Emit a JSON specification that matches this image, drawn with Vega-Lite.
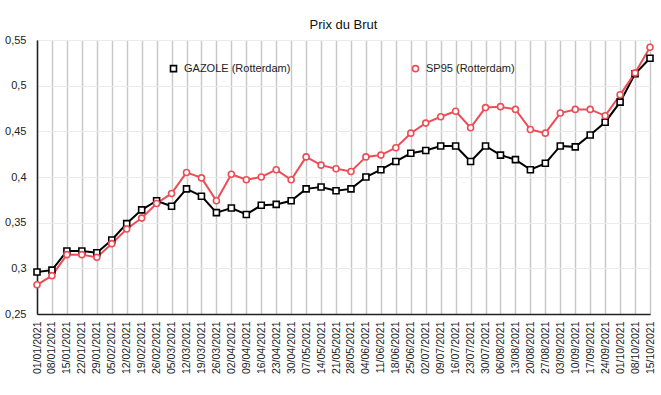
{
  "$schema": "https://vega.github.io/schema/vega-lite/v6.json",
  "width": 613,
  "height": 274,
  "autosize": {"type": "none"},
  "padding": {"left": 37, "top": 40, "right": 11, "bottom": 81},
  "background": "white",
  "title": {"text": "Prix du Brut", "fontSize": 13, "fontWeight": "normal", "font": "Liberation Sans", "color": "#111", "anchor": "middle", "offset": 4, "dy": 2},
  "config": {
    "view": {"stroke": "#444", "strokeWidth": 1},
    "font": "Liberation Sans",
    "legend": {"orient": "none", "legendX": 131, "legendY": 23, "direction": "horizontal", "columns": 2, "columnPadding": 118, "labelFontSize": 11, "labelColor": "#222", "labelFont": "Liberation Sans", "symbolSize": 36, "symbolStrokeWidth": 1.6, "labelOffset": 5, "title": null}
  },
  "datasets": {
    "prix": [
      {"date": "01/01/2021", "GAZOLE": 0.296, "SP95": 0.282},
      {"date": "08/01/2021", "GAZOLE": 0.298, "SP95": 0.292},
      {"date": "15/01/2021", "GAZOLE": 0.319, "SP95": 0.315},
      {"date": "22/01/2021", "GAZOLE": 0.319, "SP95": 0.315},
      {"date": "29/01/2021", "GAZOLE": 0.317, "SP95": 0.312},
      {"date": "05/02/2021", "GAZOLE": 0.331, "SP95": 0.327},
      {"date": "12/02/2021", "GAZOLE": 0.349, "SP95": 0.343},
      {"date": "19/02/2021", "GAZOLE": 0.364, "SP95": 0.355},
      {"date": "26/02/2021", "GAZOLE": 0.374, "SP95": 0.371},
      {"date": "05/03/2021", "GAZOLE": 0.368, "SP95": 0.382},
      {"date": "12/03/2021", "GAZOLE": 0.387, "SP95": 0.405},
      {"date": "19/03/2021", "GAZOLE": 0.379, "SP95": 0.399},
      {"date": "26/03/2021", "GAZOLE": 0.361, "SP95": 0.374},
      {"date": "02/04/2021", "GAZOLE": 0.366, "SP95": 0.403},
      {"date": "09/04/2021", "GAZOLE": 0.359, "SP95": 0.397},
      {"date": "16/04/2021", "GAZOLE": 0.369, "SP95": 0.400},
      {"date": "23/04/2021", "GAZOLE": 0.370, "SP95": 0.408},
      {"date": "30/04/2021", "GAZOLE": 0.374, "SP95": 0.397},
      {"date": "07/05/2021", "GAZOLE": 0.387, "SP95": 0.422},
      {"date": "14/05/2021", "GAZOLE": 0.389, "SP95": 0.413},
      {"date": "21/05/2021", "GAZOLE": 0.385, "SP95": 0.409},
      {"date": "28/05/2021", "GAZOLE": 0.387, "SP95": 0.406},
      {"date": "04/06/2021", "GAZOLE": 0.400, "SP95": 0.422},
      {"date": "11/06/2021", "GAZOLE": 0.408, "SP95": 0.424},
      {"date": "18/06/2021", "GAZOLE": 0.417, "SP95": 0.432},
      {"date": "25/06/2021", "GAZOLE": 0.426, "SP95": 0.448},
      {"date": "02/07/2021", "GAZOLE": 0.429, "SP95": 0.459},
      {"date": "09/07/2021", "GAZOLE": 0.434, "SP95": 0.466},
      {"date": "16/07/2021", "GAZOLE": 0.434, "SP95": 0.472},
      {"date": "23/07/2021", "GAZOLE": 0.417, "SP95": 0.454},
      {"date": "30/07/2021", "GAZOLE": 0.434, "SP95": 0.476},
      {"date": "06/08/2021", "GAZOLE": 0.424, "SP95": 0.477},
      {"date": "13/08/2021", "GAZOLE": 0.419, "SP95": 0.474},
      {"date": "20/08/2021", "GAZOLE": 0.408, "SP95": 0.452},
      {"date": "27/08/2021", "GAZOLE": 0.415, "SP95": 0.448},
      {"date": "03/09/2021", "GAZOLE": 0.434, "SP95": 0.470},
      {"date": "10/09/2021", "GAZOLE": 0.433, "SP95": 0.474},
      {"date": "17/09/2021", "GAZOLE": 0.446, "SP95": 0.474},
      {"date": "24/09/2021", "GAZOLE": 0.460, "SP95": 0.467},
      {"date": "01/10/2021", "GAZOLE": 0.482, "SP95": 0.490},
      {"date": "08/10/2021", "GAZOLE": 0.513, "SP95": 0.514},
      {"date": "15/10/2021", "GAZOLE": 0.530, "SP95": 0.542}
    ]
  },
  "data": {"name": "prix"},
  "transform": [
    {"fold": ["GAZOLE", "SP95"], "as": ["cle", "valeur"]},
    {"calculate": "datum.cle === 'GAZOLE' ? 'GAZOLE (Rotterdam)' : 'SP95 (Rotterdam)'", "as": "serie"}
  ],
  "encoding": {
    "x": {
      "field": "date", "type": "ordinal", "sort": null,
      "scale": {"type": "point", "padding": 0},
      "axis": {
        "title": null, "labelAngle": -90, "labelFontSize": 10.5, "labelColor": "#222",
        "labelPadding": 7, "ticks": false, "domainColor": "#222", "domainWidth": 1.5,
        "grid": true, "gridColor": "#c9c9c9", "gridWidth": 1.5, "labelFont": "Liberation Sans"
      }
    },
    "y": {
      "field": "valeur", "type": "quantitative",
      "scale": {"domain": [0.25, 0.55], "nice": false, "zero": false},
      "axis": {
        "title": null, "values": [0.25, 0.3, 0.35, 0.4, 0.45, 0.5, 0.55],
        "labelExpr": "replace(format(datum.value, ''), '.', ',')",
        "labelFontSize": 11, "labelColor": "#222", "labelPadding": 11, "ticks": false,
        "domainColor": "#222", "domainWidth": 1.5, "grid": true, "gridColor": "#ebebeb", "gridWidth": 1,
        "labelFont": "Liberation Sans"
      }
    },
    "color": {
      "field": "serie", "type": "nominal",
      "scale": {"domain": ["GAZOLE (Rotterdam)", "SP95 (Rotterdam)"], "range": ["#000000", "#ee4d55"]}
    }
  },
  "layer": [
    {
      "mark": {"type": "line", "strokeWidth": 2}
    },
    {
      "mark": {"type": "point", "filled": false, "fill": "white", "strokeWidth": 1.6, "opacity": 1, "size": 36},
      "encoding": {
        "shape": {
          "field": "serie", "type": "nominal",
          "scale": {"domain": ["GAZOLE (Rotterdam)", "SP95 (Rotterdam)"], "range": ["square", "circle"]}
        }
      }
    }
  ]
}
